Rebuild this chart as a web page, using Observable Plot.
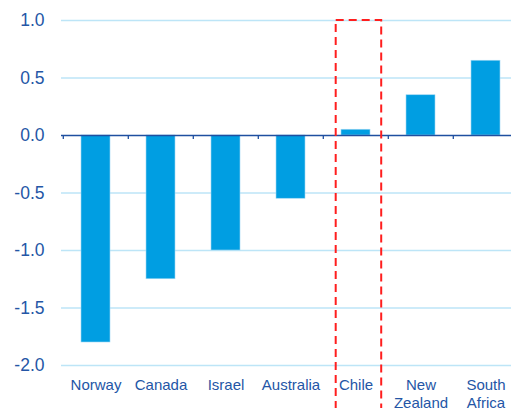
<!DOCTYPE html>
<html>
<head>
<meta charset="utf-8">
<script src="https://cdn.jsdelivr.net/npm/d3@7"></script>
<script src="https://cdn.jsdelivr.net/npm/@observablehq/plot@0.6"></script>
<style>
  html, body { margin: 0; padding: 0; background: white; }
</style>
</head>
<body>
<div id="chart"></div>
<script>
const categories = ["Norway", "Canada", "Israel", "Australia", "Chile", "New Zealand", "South Africa"];
const values = [-1.8, -1.25, -1.0, -0.55, 0.05, 0.35, 0.65];
const yTicks = [-2, -1.5, -1, -0.5, 0, 0.5, 1];
const highlight = ["Chile"];

const data = categories.map((c, i) => ({country: c, value: values[i]}));

const chart = Plot.plot({
  width: 511,
  height: 408,
  marginLeft: 61,
  marginRight: 0,
  marginTop: 20,
  marginBottom: 43,
  x: {domain: categories, range: [61, 519], paddingInner: 0.56, paddingOuter: 0.28, label: null},
  y: {domain: [-2, 1], label: null},
  style: {fontFamily: "'Liberation Sans', Arial, sans-serif", color: "#2456a6", background: "white"},
  marks: [
    Plot.ruleY(yTicks.filter(d => d !== 0), {stroke: "#bde5f7", strokeWidth: 1.4}),
    Plot.barY(data, {x: "country", y: "value", fill: "#009ee2", stroke: "#9fd8f3", strokeWidth: 0.6}),
    Plot.ruleY([0], {stroke: "#1f4fa0", strokeWidth: 1.6}),
    Plot.ruleX(categories, {x: d => d, dx: -32.7, y1: 0, y2: -0.035, stroke: "#1f4fa0", strokeWidth: 1.3}),
    Plot.barY(highlight, {x: d => d, y1: 1, y2: -2.5, fill: "none", stroke: "#ff1e1e", strokeWidth: 2, strokeDasharray: "8,5", insetLeft: -5.3, insetRight: -11.2}),
    Plot.axisY({ticks: yTicks, tickFormat: d => d.toFixed(1), tickSize: 0, tickPadding: 17, fontSize: 17.5}),
    Plot.axisX({tickSize: 0, tickPadding: 12, fontSize: 15, lineHeight: 1.2, tickFormat: d => d.replace(" ", "\n")})
  ]
});
document.getElementById("chart").appendChild(chart);
</script>
</body>
</html>
